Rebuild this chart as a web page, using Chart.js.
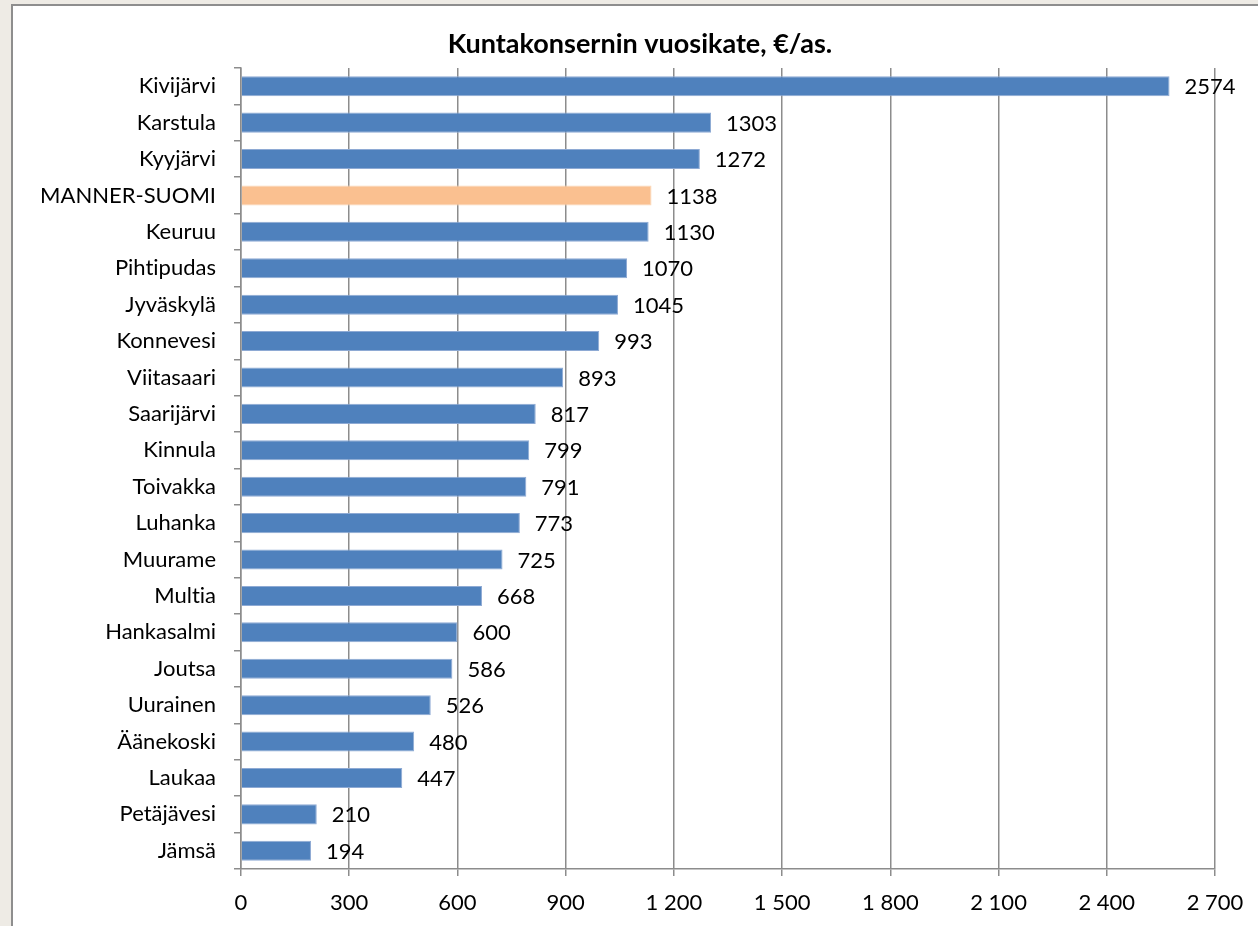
<!DOCTYPE html>
<html>
<head>
<meta charset="utf-8">
<script src="https://cdn.jsdelivr.net/npm/chart.js@4"></script>
<style>
  html, body { margin: 0; padding: 0; }
  body { width: 1258px; height: 926px; background: #eeebe5; position: relative; overflow: hidden; }
  #frame { position: absolute; left: 11px; top: 4px; width: 1300px; height: 1000px; background: #fff; border: 2px solid #8e8e8e; }
  #chart { position: absolute; left: 0; top: 0; }
</style>
</head>
<body>
<div id="frame"></div>
<canvas id="chart" width="1258" height="926"></canvas>
<script>
// Kuntakonsernin vuosikate, euroa per asukas
const kunnat = [
  "Kivijärvi", "Karstula", "Kyyjärvi", "MANNER-SUOMI", "Keuruu", "Pihtipudas",
  "Jyväskylä", "Konnevesi", "Viitasaari", "Saarijärvi", "Kinnula", "Toivakka",
  "Luhanka", "Muurame", "Multia", "Hankasalmi", "Joutsa", "Uurainen",
  "Äänekoski", "Laukaa", "Petäjävesi", "Jämsä"
];
const vuosikate = [
  2574, 1303, 1272, 1138, 1130, 1070,
  1045, 993, 893, 817, 799, 791,
  773, 725, 668, 600, 586, 526,
  480, 447, 210, 194
];
const vertailu = "MANNER-SUOMI";
const otsikko = "Kuntakonsernin vuosikate, €/as.";
const akseliMax = 2700;
const akseliVali = 300;

const FONT = "Lato, 'Open Sans', sans-serif";
const GRID = "#8c8c8c";

function fmtTuhat(n) {
  return String(n).replace(/\B(?=(\d{3})+(?!\d))/g, " ");
}

// ei ti-ligatuureja (Pihtipudas, Multia)
const tekstiAsetus = {
  id: "tekstiAsetus",
  beforeDraw(chart) { chart.ctx.textRendering = "optimizeSpeed"; }
};

// otsikko koko kuvan keskelle, ei pelkän piirtoalueen
const otsikkoPlugin = {
  id: "otsikkoPlugin",
  afterDraw(chart) {
    const { ctx } = chart;
    ctx.save();
    ctx.font = "bold 27px " + FONT;
    ctx.fillStyle = "#000";
    ctx.textAlign = "center";
    ctx.textBaseline = "middle";
    ctx.fillText(otsikko, 640, 44);
    ctx.restore();
  }
};

// arvot palkkien perään
const arvoLabelit = {
  id: "arvoLabelit",
  afterDatasetsDraw(chart) {
    const { ctx } = chart;
    const meta = chart.getDatasetMeta(0);
    ctx.save();
    ctx.font = "22px " + FONT;
    ctx.fillStyle = "#000";
    ctx.textAlign = "left";
    ctx.textBaseline = "middle";
    meta.data.forEach((bar, i) => {
      ctx.fillText(String(vuosikate[i]), bar.x + 15, bar.y + 1);
    });
    ctx.restore();
  }
};

new Chart(document.getElementById("chart"), {
  type: "bar",
  data: {
    labels: kunnat,
    datasets: [{
      data: vuosikate,
      backgroundColor: kunnat.map(k => k === vertailu ? "#fac090" : "#4f81bd"),
      borderColor: kunnat.map(k => k === vertailu ? "#fcd5b4" : "#8eaad4"),
      borderWidth: 1,
      borderSkipped: "start",
      categoryPercentage: 1,
      barPercentage: 0.55
    }]
  },
  options: {
    indexAxis: "y",
    responsive: false,
    animation: false,
    layout: { padding: { left: 0, right: 43, top: 68, bottom: 0 } },
    plugins: {
      legend: { display: false },
      tooltip: { enabled: false },
      title: { display: false }
    },
    scales: {
      x: {
        min: 0,
        max: akseliMax,
        afterFit: s => { s.height = 57; },
        ticks: {
          stepSize: akseliVali,
          color: "#000",
          padding: 14,
          font: { family: FONT, size: 22 },
          callback: v => fmtTuhat(v)
        },
        grid: { color: GRID, lineWidth: 1.5, tickLength: 7 },
        border: { color: GRID, width: 1.5 }
      },
      y: {
        afterFit: s => { s.width = 241; },
        ticks: {
          color: "#000",
          padding: 18,
          font: { family: FONT, size: 22 }
        },
        grid: { drawOnChartArea: false, color: GRID, lineWidth: 1.5, tickLength: 7, offset: true },
        border: { color: GRID, width: 1.5 }
      }
    }
  },
  plugins: [tekstiAsetus, otsikkoPlugin, arvoLabelit]
});
</script>
</body>
</html>
